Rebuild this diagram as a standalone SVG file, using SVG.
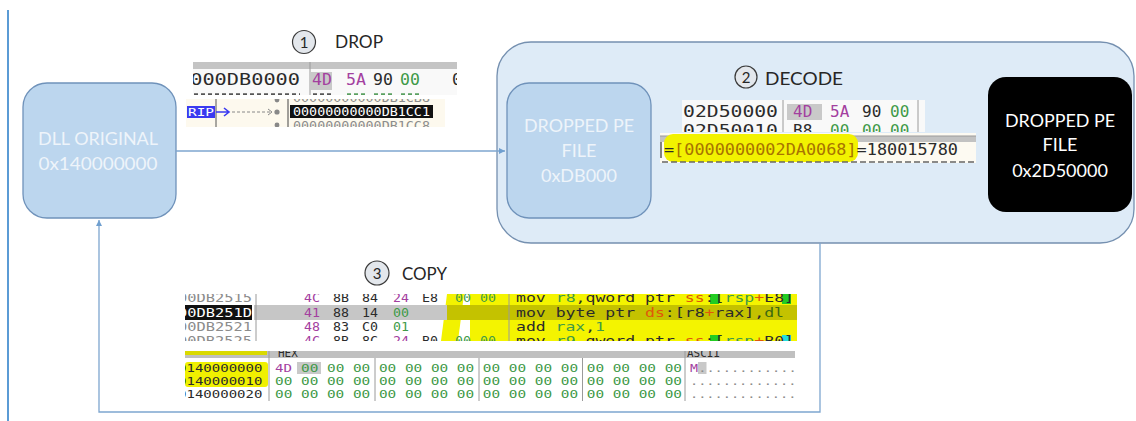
<svg xmlns="http://www.w3.org/2000/svg" width="1136" height="421" viewBox="0 0 1136 421">
<style>
.lbl{font-family:Lato,"Open Sans",sans-serif;font-size:18px;fill:#eef4fa;text-anchor:middle}
.lblw{font-family:Lato,"Open Sans",sans-serif;font-size:18px;fill:#ffffff;text-anchor:middle}
.step{font-family:Lato,"Open Sans",sans-serif;font-size:18px;fill:#262626}
.num{font-family:Lato,"Open Sans",sans-serif;font-size:15px;fill:#262626;text-anchor:middle}
.stepc{fill:#e3e7ec;stroke:#3a3a3a;stroke-width:1.2}
.m{font-family:"DejaVu Sans Mono","Liberation Mono",monospace}
.f12{font-size:12px}.f11{font-size:11px}
.dk{fill:#2b2b2b}.gy{fill:#8c8c8c}.pu{fill:#a3409f}.gr{fill:#3f9a48}.or{fill:#e0580a}.gd{fill:#a87400}.wh{fill:#ffffff}
.sep{stroke:#9a9a9a;stroke-width:1}
.node{stroke:#6f92ba;stroke-width:1.3}
.frag{fill:none;stroke-width:2.4;stroke-dasharray:4 3}
</style>
<defs>
<marker id="arr" markerWidth="8" markerHeight="8" refX="6" refY="4" orient="auto" markerUnits="userSpaceOnUse">
<path d="M0,1 L6,4 L0,7 Z" fill="#6f9fcf"/>
</marker>
<clipPath id="cA"><rect x="193" y="62" width="264" height="33"/></clipPath>
<clipPath id="cB"><rect x="186" y="99" width="259" height="28"/></clipPath>
<clipPath id="cC"><rect x="682" y="100" width="243" height="32"/></clipPath>
<clipPath id="cD"><rect x="660" y="133" width="316" height="30"/></clipPath>
<clipPath id="cE"><rect x="185" y="294" width="615" height="47"/></clipPath>
<clipPath id="cF"><rect x="185" y="351" width="611" height="50"/></clipPath>
</defs>

<rect width="1136" height="421" fill="#ffffff"/>
<line x1="8" y1="10" x2="8" y2="421" stroke="#5b9bd5" stroke-width="2"/>

<g id="decode-container">
<rect x="497" y="42" width="637" height="201" rx="34" fill="#deebf7" stroke="#7590b0" stroke-width="1.3"/>
</g>

<g id="dll-original">
<rect class="node" x="23" y="83" width="153" height="135" rx="24" fill="#bcd6ee"/>
<text class="lbl" x="98" y="145" textLength="120" lengthAdjust="spacingAndGlyphs">DLL ORIGINAL</text>
<text class="lbl" x="98" y="170" textLength="119" lengthAdjust="spacingAndGlyphs">0x140000000</text>
</g>

<g id="dropped-pe-db000">
<rect class="node" x="507" y="83" width="144" height="135" rx="22" fill="#bcd6ee"/>
<text class="lbl" x="579" y="132" textLength="110" lengthAdjust="spacingAndGlyphs">DROPPED PE</text>
<text class="lbl" x="579" y="157">FILE</text>
<text class="lbl" x="579" y="182">0xDB000</text>
</g>

<g id="dropped-pe-2d50000">
<rect x="988" y="77" width="144" height="135" rx="18" fill="#000000"/>
<text class="lblw" x="1060" y="127" textLength="110" lengthAdjust="spacingAndGlyphs">DROPPED PE</text>
<text class="lblw" x="1060" y="151">FILE</text>
<text class="lblw" x="1060" y="177">0x2D50000</text>
</g>

<g id="connectors" fill="none" stroke="#7ea6cf" stroke-width="1.3">
<path d="M176 151 H505" marker-end="url(#arr)"/>
<path d="M820 243 V412 H99 V220" marker-end="url(#arr)"/>
</g>

<g id="step-drop">
<circle class="stepc" cx="304" cy="42" r="11.5"/>
<text class="num" x="304" y="47.5">1</text>
<text class="step" x="335" y="48" textLength="48" lengthAdjust="spacingAndGlyphs">DROP</text>
</g>
<g id="step-decode">
<circle class="stepc" cx="746" cy="77" r="11"/>
<text class="num" x="746" y="82.5">2</text>
<text class="step" x="765" y="85" textLength="78" lengthAdjust="spacingAndGlyphs">DECODE</text>
</g>
<g id="step-copy">
<circle class="stepc" cx="377" cy="273" r="12"/>
<text class="num" x="377" y="278.5">3</text>
<text class="step" x="402" y="280" textLength="45" lengthAdjust="spacingAndGlyphs">COPY</text>
</g>

<!-- DROP screenshot A -->
<g id="shot-drop-a" clip-path="url(#cA)">
<rect x="193" y="62" width="264" height="33" fill="#f9f9f9"/>
<rect x="193" y="62" width="264" height="7" fill="#c4c4c4"/>
<line class="sep" x1="310" y1="62" x2="310" y2="95"/>
<rect x="310" y="72" width="22" height="18" fill="#c9c9c9"/>
<g class="m" font-size="16.5">
<text class="dk" x="178" y="85" textLength="122" lengthAdjust="spacingAndGlyphs">0000DB0000</text>
<text class="pu" x="312" y="85">4D</text>
<text class="pu" x="346" y="85">5A</text>
<text class="dk" x="373" y="85">90</text>
<text class="gr" x="400" y="85">00</text>
<text class="dk" x="452" y="85">0</text>
</g>
<path class="frag" stroke="#555" d="M180 94.5 H300 M313 94.5 H331"/>
<path class="frag" stroke="#5aa060" d="M347 94.5 H366 M374 94.5 H393 M401 94.5 H420"/>
</g>

<!-- DROP screenshot B -->
<g id="shot-drop-b" clip-path="url(#cB)">
<rect x="186" y="99" width="259" height="28" fill="#fdf9ee"/>
<rect x="187" y="106" width="28" height="12" fill="#3a3af0"/>
<text class="m wh" x="188" y="115.5" font-size="11" textLength="26" lengthAdjust="spacingAndGlyphs">RIP</text>
<line x1="216" y1="99" x2="216" y2="127" stroke="#555" stroke-width="1"/>
<path d="M216 112 H228 M224 108 L229 112 L224 116" fill="none" stroke="#3a3af0" stroke-width="1.6"/>
<line x1="232" y1="112" x2="270" y2="112" stroke="#888" stroke-dasharray="3 2"/>
<path d="M268 109 L272 112 L268 115" fill="none" stroke="#888"/>
<circle cx="277" cy="112" r="2.6" fill="#888"/>
<circle cx="277" cy="100" r="2.4" fill="#888"/>
<circle cx="277" cy="125" r="2.4" fill="#888"/>
<line x1="288" y1="99" x2="288" y2="127" stroke="#444" stroke-width="1"/>
<rect x="290" y="105" width="143" height="13" fill="#111"/>
<text class="m f12 gy" x="293" y="102" textLength="137" lengthAdjust="spacingAndGlyphs">00000000000DB1CB8</text>
<text class="m f12 wh" x="293" y="116" textLength="137" lengthAdjust="spacingAndGlyphs">00000000000DB1CC1</text>
<text class="m f12 gy" x="293" y="130" textLength="137" lengthAdjust="spacingAndGlyphs">00000000000DB1CC8</text>
</g>

<!-- DECODE screenshot A -->
<g id="shot-decode-a" clip-path="url(#cC)">
<rect x="682" y="100" width="243" height="32" fill="#f9f9f9"/>
<line class="sep" x1="783" y1="100" x2="783" y2="132"/>
<line class="sep" x1="918" y1="100" x2="918" y2="132"/>
<rect x="787" y="104" width="35" height="16" fill="#c9c9c9"/>
<g class="m" font-size="16">
<text class="dk" x="683" y="117" textLength="95" lengthAdjust="spacingAndGlyphs">02D50000</text>
<text class="pu" x="793" y="117">4D</text>
<text class="pu" x="830" y="117">5A</text>
<text class="dk" x="862" y="117">90</text>
<text class="gr" x="890" y="117">00</text>
<text class="dk" x="683" y="136" textLength="95" lengthAdjust="spacingAndGlyphs">02D50010</text>
<text class="dk" x="793" y="136">B8</text>
<text class="gr" x="830" y="136">00</text>
<text class="gr" x="862" y="136">00</text>
<text class="gr" x="890" y="136">00</text>
</g>
</g>

<!-- DECODE screenshot B -->
<g id="shot-decode-b" clip-path="url(#cD)">
<rect x="660" y="133" width="316" height="30" fill="#fdfaf2"/>
<rect x="660" y="136" width="316" height="6" fill="#c2c2c2"/>
<line x1="660" y1="136" x2="976" y2="136" stroke="#9a9a9a"/>
<rect x="664" y="134" width="194" height="28" rx="9" fill="#f2f200"/>
<line x1="661" y1="142" x2="661" y2="158" stroke="#333" stroke-width="1.2"/>
<text class="m" x="664" y="155" font-size="15" textLength="294" lengthAdjust="spacingAndGlyphs"><tspan class="dk">=</tspan><tspan class="gd">[0000000002DA0068]</tspan><tspan class="dk">=180015780</tspan></text>
<line x1="662" y1="162" x2="976" y2="162" stroke="#666" stroke-width="1.5" stroke-dasharray="6 3"/>
</g>

<!-- COPY screenshot A -->
<g id="shot-copy-a" clip-path="url(#cE)">
<rect x="185" y="294" width="615" height="47" fill="#ffffff"/>
<polygon points="447,294 464,294 458,341 441,341" fill="#f2f200"/>
<rect x="470" y="294" width="327" height="47" fill="#f4f400"/>
<rect x="254" y="305" width="193" height="15" fill="#c6c6c6"/>
<rect x="447" y="305" width="350" height="15" fill="#c4c200"/>
<rect x="185" y="305" width="67" height="15" fill="#111111"/>
<line class="sep" x1="256" y1="294" x2="256" y2="341"/>
<line class="sep" x1="509" y1="294" x2="509" y2="341"/>
<rect x="710" y="294" width="9" height="10" fill="#22cc22"/>
<rect x="782" y="294" width="9" height="10" fill="#22cc22"/>
<rect x="710" y="335" width="9" height="8" fill="#22cc22"/>
<rect x="782" y="335" width="9" height="8" fill="#22dddd"/>
<g class="m f12">
<text class="gy" x="178" y="302" textLength="74" lengthAdjust="spacingAndGlyphs">00DB2515</text>
<text class="wh" x="178" y="317" textLength="74" lengthAdjust="spacingAndGlyphs">00DB251D</text>
<text class="gy" x="178" y="331" textLength="74" lengthAdjust="spacingAndGlyphs">00DB2521</text>
<text class="gy" x="178" y="345" textLength="74" lengthAdjust="spacingAndGlyphs">00DB2525</text>
<text class="pu" x="304" y="302" textLength="16" lengthAdjust="spacingAndGlyphs">4C</text>
<text class="dk" x="333" y="302" textLength="16" lengthAdjust="spacingAndGlyphs">8B</text>
<text class="dk" x="362" y="302" textLength="16" lengthAdjust="spacingAndGlyphs">84</text>
<text class="pu" x="393" y="302" textLength="16" lengthAdjust="spacingAndGlyphs">24</text>
<text class="dk" x="422" y="302" textLength="16" lengthAdjust="spacingAndGlyphs">E8</text>
<text class="gr" x="455" y="302" textLength="16" lengthAdjust="spacingAndGlyphs">00</text>
<text class="gr" x="480" y="302" textLength="16" lengthAdjust="spacingAndGlyphs">00</text>
<text class="pu" x="304" y="317" textLength="16" lengthAdjust="spacingAndGlyphs">41</text>
<text class="dk" x="333" y="317" textLength="16" lengthAdjust="spacingAndGlyphs">88</text>
<text class="dk" x="362" y="317" textLength="16" lengthAdjust="spacingAndGlyphs">14</text>
<text class="gr" x="393" y="317" textLength="16" lengthAdjust="spacingAndGlyphs">00</text>
<text class="pu" x="304" y="331" textLength="16" lengthAdjust="spacingAndGlyphs">48</text>
<text class="dk" x="333" y="331" textLength="16" lengthAdjust="spacingAndGlyphs">83</text>
<text class="dk" x="362" y="331" textLength="16" lengthAdjust="spacingAndGlyphs">C0</text>
<text class="gr" x="393" y="331" textLength="16" lengthAdjust="spacingAndGlyphs">01</text>
<text class="pu" x="304" y="345" textLength="16" lengthAdjust="spacingAndGlyphs">4C</text>
<text class="dk" x="333" y="345" textLength="16" lengthAdjust="spacingAndGlyphs">8B</text>
<text class="dk" x="362" y="345" textLength="16" lengthAdjust="spacingAndGlyphs">8C</text>
<text class="pu" x="393" y="345" textLength="16" lengthAdjust="spacingAndGlyphs">24</text>
<text class="dk" x="422" y="345" textLength="16" lengthAdjust="spacingAndGlyphs">B0</text>
<text class="gr" x="455" y="345" textLength="16" lengthAdjust="spacingAndGlyphs">00</text>
<text class="gr" x="480" y="345" textLength="16" lengthAdjust="spacingAndGlyphs">00</text>
<text x="516" y="302" textLength="278" lengthAdjust="spacingAndGlyphs"><tspan class="dk">mov </tspan><tspan class="gr">r8</tspan><tspan class="dk">,qword ptr </tspan><tspan class="or">ss</tspan><tspan class="dk">:[</tspan><tspan class="gr">rsp</tspan><tspan class="or">+</tspan><tspan class="dk">E8]</tspan></text>
<text x="516" y="317" textLength="268" lengthAdjust="spacingAndGlyphs"><tspan class="dk">mov byte ptr </tspan><tspan class="or">ds</tspan><tspan class="dk">:[r8</tspan><tspan class="or">+</tspan><tspan class="dk">rax],</tspan><tspan fill="#3d6a10">dl</tspan></text>
<text x="516" y="331" textLength="89" lengthAdjust="spacingAndGlyphs"><tspan class="dk">add </tspan><tspan class="gr">rax</tspan><tspan class="dk">,</tspan><tspan class="gr">1</tspan></text>
<text x="516" y="345" textLength="278" lengthAdjust="spacingAndGlyphs"><tspan class="dk">mov </tspan><tspan class="gr">r9</tspan><tspan class="dk">,qword ptr </tspan><tspan class="or">ss</tspan><tspan class="dk">:[</tspan><tspan class="gr">rsp</tspan><tspan class="or">+</tspan><tspan class="dk">B0]</tspan></text>
</g>
</g>

<!-- COPY screenshot B -->
<g id="shot-copy-b" clip-path="url(#cF)">
<rect x="185" y="351" width="611" height="50" fill="#ffffff"/>
<rect x="185" y="351" width="610" height="7" fill="#c0c0c0"/>
<rect x="185" y="351" width="82" height="4" fill="#dada00"/>
<rect x="185" y="362" width="83" height="25" rx="3" fill="#f0f000"/>
<line class="sep" x1="269" y1="351" x2="269" y2="401"/>
<line class="sep" x1="375" y1="358" x2="375" y2="401"/>
<line class="sep" x1="479" y1="358" x2="479" y2="401"/>
<line class="sep" x1="582.5" y1="358" x2="582.5" y2="401"/>
<line class="sep" x1="685" y1="351" x2="685" y2="401"/>
<rect x="297" y="362" width="24" height="12" fill="#c9c9c9"/>
<rect x="698" y="362" width="8.5" height="12" fill="#c9c9c9"/>
<g class="m f11">
<text class="dk" x="278" y="357">HEX</text>
<text class="dk" x="687" y="357">ASCII</text>
<text class="dk" x="178" y="372" textLength="84.4" lengthAdjust="spacingAndGlyphs">0140000000</text>
<text class="dk" x="178" y="385" textLength="84.4" lengthAdjust="spacingAndGlyphs">0140000010</text>
<text class="dk" x="178" y="398" textLength="84.4" lengthAdjust="spacingAndGlyphs">0140000020</text>
<text class="pu" x="275" y="372" textLength="17" lengthAdjust="spacingAndGlyphs">4D</text>
<text class="gr" x="301" y="372" textLength="381" lengthAdjust="spacingAndGlyphs">00 00 00 00 00 00 00 00 00 00 00 00 00 00 00</text>
<text class="gr" x="275" y="385" textLength="407" lengthAdjust="spacingAndGlyphs">00 00 00 00 00 00 00 00 00 00 00 00 00 00 00 00</text>
<text class="gr" x="275" y="398" textLength="407" lengthAdjust="spacingAndGlyphs">00 00 00 00 00 00 00 00 00 00 00 00 00 00 00 00</text>
<text class="pu" x="690" y="372" textLength="8" lengthAdjust="spacingAndGlyphs">M</text>
<text class="gy" x="698.2" y="372" textLength="123" lengthAdjust="spacingAndGlyphs">...............</text>
<text class="gy" x="690" y="385" textLength="131" lengthAdjust="spacingAndGlyphs">................</text>
<text class="gy" x="690" y="398" textLength="131" lengthAdjust="spacingAndGlyphs">................</text>
</g>
</g>
</svg>
